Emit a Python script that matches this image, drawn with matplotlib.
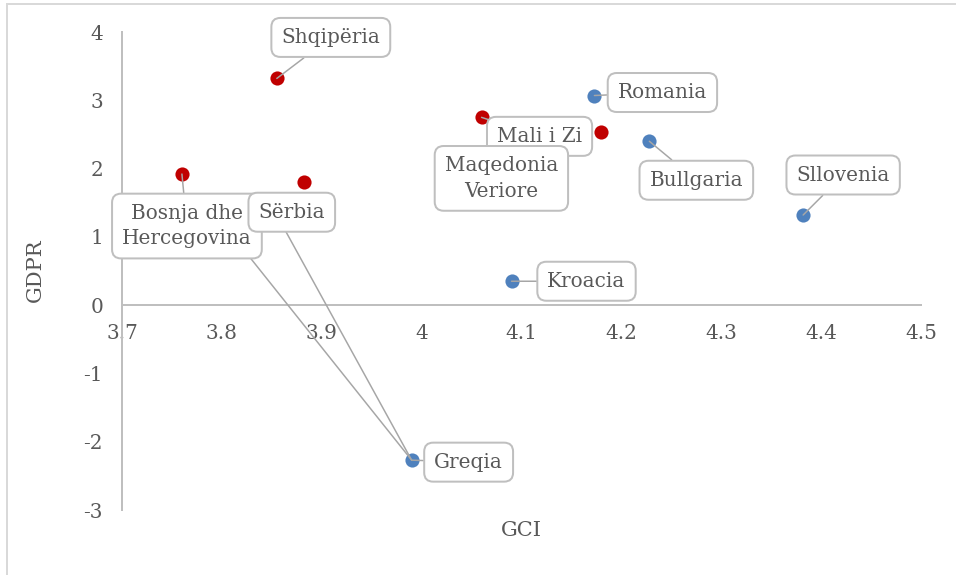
import matplotlib
matplotlib.use("Agg")
import matplotlib.pyplot as plt
from matplotlib.text import OffsetFrom
from matplotlib.lines import Line2D

# ---- data ----
countries = ["Shqipëria", "Bosnja dhe\nHercegovina", "Sërbia", "Mali i Zi",
             "Maqedonia\nVeriore", "Romania", "Bullgaria", "Sllovenia",
             "Kroacia", "Greqia"]
gci = [3.855, 3.76, 3.882, 4.06, 4.18, 4.173, 4.228, 4.382, 4.09, 3.99]
gdpr = [3.32, 1.92, 1.80, 2.75, 2.53, 3.07, 2.40, 1.32, 0.35, -2.27]
group = ["wb", "wb", "wb", "wb", "wb", "eu", "eu", "eu", "eu", "eu"]
x_ticks = [3.7, 3.8, 3.9, 4.0, 4.1, 4.2, 4.3, 4.4, 4.5]
x_tick_labels = ["3.7", "3.8", "3.9", "4", "4.1", "4.2", "4.3", "4.4", "4.5"]
y_ticks = [-3, -2, -1, 0, 1, 2, 3, 4]
x_title = "GCI"
y_title = "GDPR"

# ---- styles / layout ----
colors = {"wb": "#C00000", "eu": "#4F81BD"}
# label offsets (points) from point, and whether a leader line is drawn
offsets = [(54, 41), (5, -52), (-12, -30), (58, -19), (-100, -46),
           (68, 3), (47, -39), (40, 40), (75, 0), (57, -2)]
leader = [True, True, False, True, False, True, True, True, True, True]
TXT = "#595959"
GRID = "#BFBFBF"
LEAD = "#A6A6A6"
FONT = "DejaVu Serif"

DPI = 72
fig = plt.figure(figsize=(956 / DPI, 575 / DPI), dpi=DPI)
ax = fig.add_axes([122 / 956, 1 - 510 / 575, (921 - 122) / 956, (510 - 32) / 575])

ax.set_xlim(3.7, 4.5)
ax.set_ylim(-3, 4)

for g in ["wb", "eu"]:
    xs = [x for x, gg in zip(gci, group) if gg == g]
    ys = [y for y, gg in zip(gdpr, group) if gg == g]
    ax.scatter(xs, ys, s=200, color=colors[g], zorder=2, linewidths=0)

ax.spines["top"].set_visible(False)
ax.spines["right"].set_visible(False)
ax.spines["bottom"].set_position(("data", 0))
for sp in ["left", "bottom"]:
    ax.spines[sp].set_color(GRID)
    ax.spines[sp].set_linewidth(2)

ax.set_xticks(x_ticks)
ax.set_xticklabels(x_tick_labels)
ax.set_yticks(y_ticks)
ax.set_yticklabels([str(v) for v in y_ticks])
ax.tick_params(axis="both", length=0, labelsize=20, labelcolor=TXT)
ax.tick_params(axis="x", pad=19)
ax.tick_params(axis="y", pad=19)
for lab in ax.get_xticklabels() + ax.get_yticklabels():
    lab.set_fontfamily(FONT)

fig.text(521 / 956, 1 - 530 / 575, x_title, ha="center", va="center",
         fontsize=21, color=TXT, family=FONT)
fig.text(35 / 956, 1 - 270 / 575, y_title, ha="center", va="center",
         fontsize=21, color=TXT, family=FONT, rotation=90)

bbox = dict(boxstyle="round,pad=0.5,rounding_size=0.45", fc="white",
            ec=GRID, lw=2)
anns = {}
for name, x, y, off, ld in zip(countries, gci, gdpr, offsets, leader):
    ap = dict(arrowstyle="-", color=LEAD, lw=1.5, shrinkA=0, shrinkB=0) if ld else None
    a = ax.annotate(name, xy=(x, y), xytext=off, textcoords="offset points",
                    ha="center", va="center", fontsize=20, color=TXT,
                    family=FONT, bbox=bbox, arrowprops=ap, zorder=4,
                    linespacing=1.45)
    anns[name] = a

# stray leader lines from two labels to the Greqia point (as in the source)
gi = countries.index("Greqia")
for name, rel in [("Bosnja dhe\nHercegovina", (0.93, 0.0)), ("Sërbia", (0.33, 0.0))]:
    ax.annotate("", xy=(gci[gi], gdpr[gi]), xytext=(0, 0),
                textcoords=OffsetFrom(anns[name], rel),
                arrowprops=dict(arrowstyle="-", color=LEAD, lw=1.5,
                                shrinkA=0, shrinkB=0), zorder=3)

# figure border (left and top)
fig.add_artist(Line2D([7 / 956, 7 / 956], [0, 1 - 4 / 575], color="#D9D9D9", lw=2))
fig.add_artist(Line2D([7 / 956, 1], [1 - 4 / 575, 1 - 4 / 575], color="#D9D9D9", lw=2))

fig.savefig("out.png", dpi=DPI)
